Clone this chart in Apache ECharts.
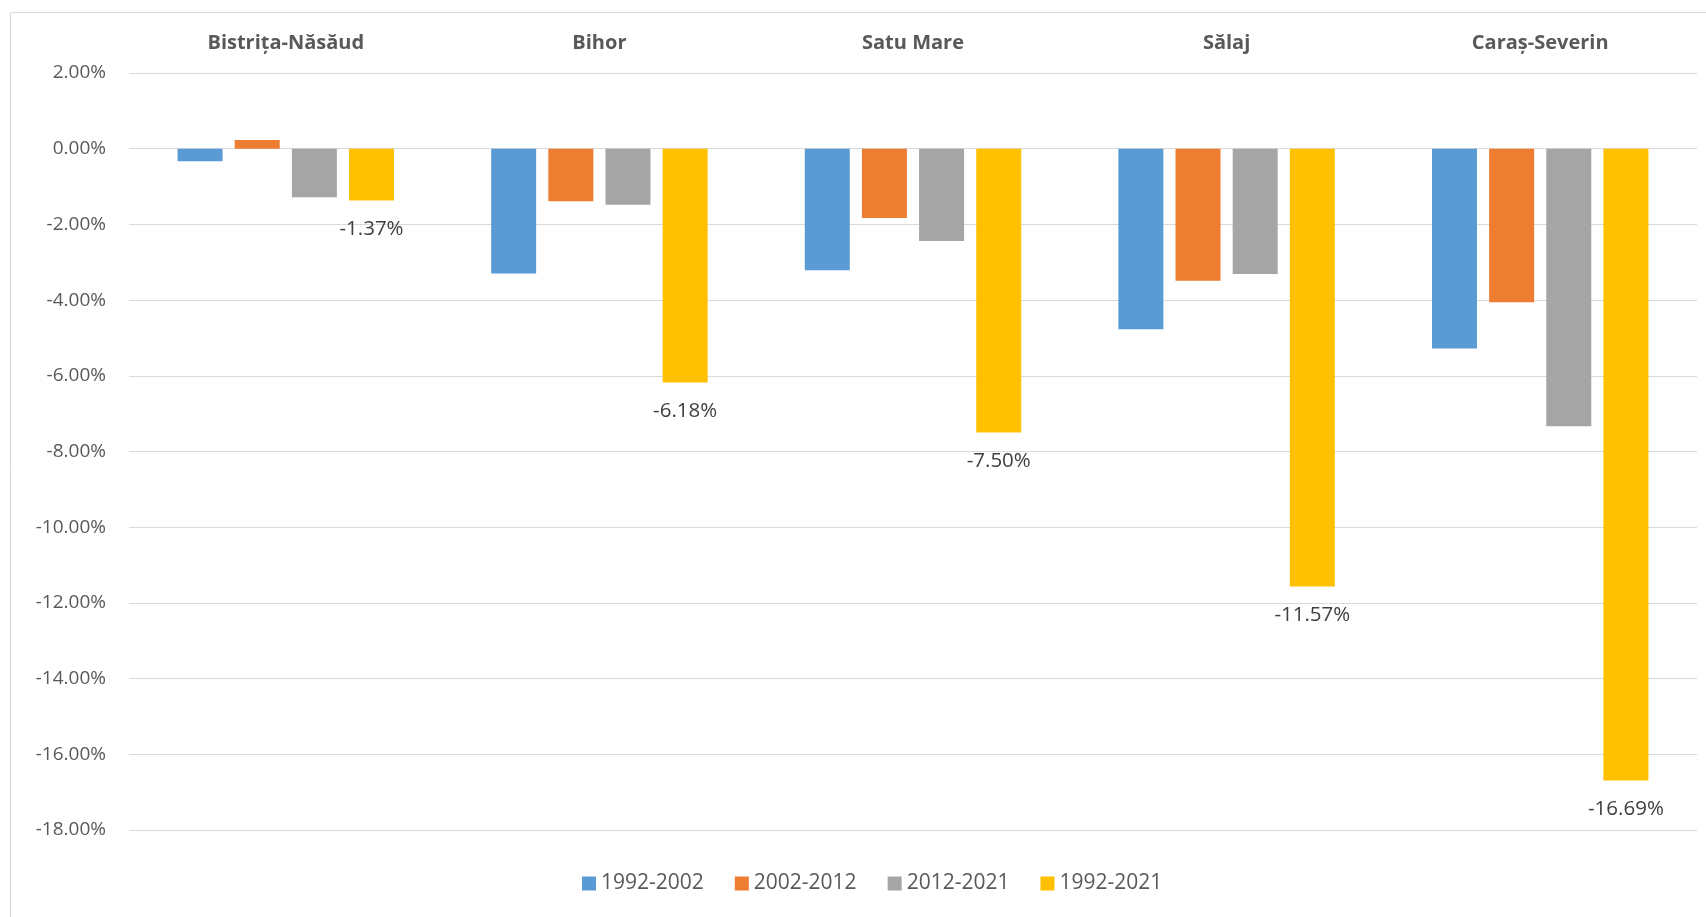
<!DOCTYPE html>
<html>
<head>
<meta charset="utf-8">
<script src="https://cdn.jsdelivr.net/npm/echarts@6/dist/echarts.min.js"></script>
<style>html,body{margin:0;padding:0;background:#fff}#c{width:1706px;height:917px}</style>
</head>
<body>
<div id="c"></div>
<script>
const categories = ['Bistrița-Năsăud', 'Bihor', 'Satu Mare', 'Sălaj', 'Caraș-Severin'];
const seriesNames = ['1992-2002', '2002-2012', '2012-2021', '1992-2021'];
const s1992_2002 = [-0.33, -3.30, -3.21, -4.77, -5.28];
const s2002_2012 = [0.23, -1.39, -1.83, -3.49, -4.06];
const s2012_2021 = [-1.28, -1.48, -2.44, -3.31, -7.33];
const s1992_2021 = [-1.37, -6.18, -7.50, -11.57, -16.69];
const colors = ['#5B9BD5', '#ED7D31', '#A5A5A5', '#FFC000'];

const FONT = '"Open Sans", sans-serif';
const chart = echarts.init(document.getElementById('c'));
const data = [s1992_2002, s2002_2012, s2012_2021, s1992_2021];
chart.setOption({
  animation: false,
  color: colors,
  graphic: [{
    type: 'rect', shape: {x: 10.5, y: 12.5, width: 1720, height: 940},
    style: {fill: 'none', stroke: '#d9d9d9', lineWidth: 1}, silent: true, z: -1
  }],
  grid: {left: 129, right: 9, top: 73, bottom: 87},
  legend: {
    data: seriesNames, left: 582, top: 873, padding: 0, icon: 'rect', itemWidth: 14, itemHeight: 14,
    itemGap: 31, textStyle: {fontFamily: FONT, fontSize: 21, color: '#595959'}
  },
  xAxis: {
    type: 'category', position: 'top', data: categories,
    axisLine: {show: false}, axisTick: {show: false},
    axisLabel: {margin: 20, fontFamily: FONT, fontSize: 20, fontWeight: 'bold', color: '#595959'}
  },
  yAxis: {
    type: 'value', min: -18, max: 2, interval: 2,
    axisLine: {show: false}, axisTick: {show: false},
    splitLine: {lineStyle: {color: '#d9d9d9', width: 1}},
    axisLabel: {margin: 23, fontFamily: FONT, fontSize: 19, color: '#595959',
      formatter: v => v.toFixed(2) + '%'}
  },
  series: seriesNames.map((n, i) => ({
    name: n, type: 'bar', data: data[i], barWidth: 45, barGap: '27%',
    itemStyle: {color: colors[i]},
    label: i === 3 ? {show: true, position: 'bottom', distance: 18, fontFamily: FONT,
      fontSize: 20.5, color: '#404040', formatter: p => p.value.toFixed(2) + '%'} : {show: false}
  }))
});
</script>
</body>
</html>
